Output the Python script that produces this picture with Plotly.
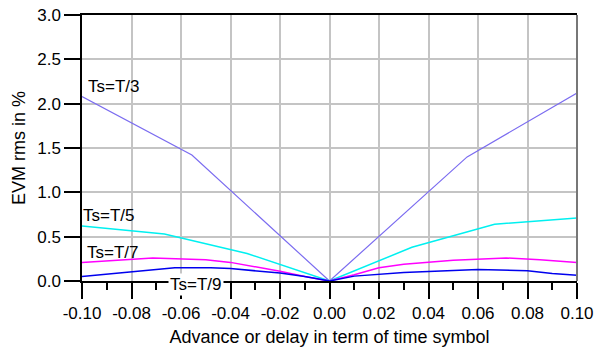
import plotly.graph_objects as go

# Data
t3_x = [-0.10, -0.0556, 0.0, 0.0556, 0.10]
t3_y = [2.08, 1.42, 0.0, 1.40, 2.12]

t5_x = [-0.10, -0.0667, -0.0333, 0.0, 0.0333, 0.0667, 0.10]
t5_y = [0.62, 0.53, 0.31, 0.0, 0.38, 0.64, 0.71]

t7_x = [-0.10, -0.085, -0.0714, -0.05, -0.04, -0.02, -0.01, 0.0,
        0.01, 0.02, 0.03, 0.05, 0.0714, 0.085, 0.10]
t7_y = [0.21, 0.24, 0.26, 0.24, 0.21, 0.11, 0.05, 0.0,
        0.07, 0.15, 0.19, 0.235, 0.26, 0.24, 0.21]

t9_x = [-0.10, -0.08, -0.0625, -0.048, -0.04, -0.02, -0.01, 0.0,
        0.01, 0.03, 0.05, 0.06, 0.08, 0.09, 0.10]
t9_y = [0.05, 0.10, 0.15, 0.15, 0.14, 0.09, 0.05, 0.0,
        0.055, 0.095, 0.12, 0.13, 0.115, 0.085, 0.065]

labels = ["Ts=T/3", "Ts=T/5", "Ts=T/7", "Ts=T/9"]
label_x = [-0.0869, -0.0889, -0.0873, -0.0541]
label_y = [2.19, 0.74, 0.327, -0.034]

x_ticks = [-0.10, -0.08, -0.06, -0.04, -0.02, 0.0, 0.02, 0.04, 0.06, 0.08, 0.10]
y_ticks = [0.0, 0.5, 1.0, 1.5, 2.0, 2.5, 3.0]
y_max = 3.0

series = [
    (t3_x, t3_y, "#7b6cf0", 1.2),
    (t5_x, t5_y, "#00f0f0", 1.5),
    (t7_x, t7_y, "#ff00ff", 1.5),
    (t9_x, t9_y, "#0000ee", 1.5),
]

fig = go.Figure()
for xs, ys, col, w in series:
    fig.add_trace(go.Scatter(x=xs, y=ys, mode="lines",
                             line=dict(color=col, width=w),
                             showlegend=False, hoverinfo="skip"))

font_family = "Liberation Sans, Arial, Helvetica, sans-serif"

for i, (txt, lx, ly) in enumerate(zip(labels, label_x, label_y)):
    fig.add_annotation(x=lx, y=ly / y_max, yref="paper", text=txt, showarrow=False,
                       xanchor="center", yanchor="middle",
                       font=dict(family=font_family, size=17, color="black"),
                       bgcolor="white" if i == 3 else "rgba(0,0,0,0)",
                       borderpad=1)

fig.add_shape(type="line", xref="paper", yref="paper", x0=1, x1=1, y0=0, y1=1,
              line=dict(color="#777777", width=2))

fig.update_layout(
    width=599, height=349,
    margin=dict(l=82, r=22, t=15, b=68),
    paper_bgcolor="white", plot_bgcolor="white",
    font=dict(family=font_family, size=17, color="black"),
    xaxis=dict(
        range=[-0.10, 0.10], tickvals=x_ticks,
        ticktext=[f"{v:.2f}" for v in x_ticks],
        ticks="outside", ticklen=16, tickwidth=1.5, tickcolor="black",
        showline=True, linecolor="black", linewidth=1.5, mirror=True,
        showgrid=True, gridcolor="#c4c4c4", gridwidth=1.5,
        zeroline=False, automargin=False,
        minor=dict(tickvals=[-0.09, -0.07, -0.05, -0.03, -0.01, 0.01, 0.03, 0.05, 0.07, 0.09],
                   ticks="outside", ticklen=7, tickwidth=1.5, tickcolor="black",
                   showgrid=False),
        title=dict(text="Advance or delay in term of time symbol",
                   font=dict(size=18), standoff=8),
        tickfont=dict(size=17),
    ),
    yaxis=dict(
        range=[0, y_max], tickvals=y_ticks,
        ticktext=[f"{v:.1f}" for v in y_ticks],
        ticks="outside", ticklen=16, tickwidth=1.5, tickcolor="black",
        showline=True, linecolor="black", linewidth=1.5,
        showgrid=True, gridcolor="#c4c4c4", gridwidth=1.5,
        zeroline=False, automargin=False,
        title=dict(text="EVM rms in %", font=dict(size=18), standoff=7),
        tickfont=dict(size=17),
    ),
)

fig.write_html("out.html", config={"displayModeBar": False},
               post_script="document.body.style.margin='0';document.body.style.padding='0';")
